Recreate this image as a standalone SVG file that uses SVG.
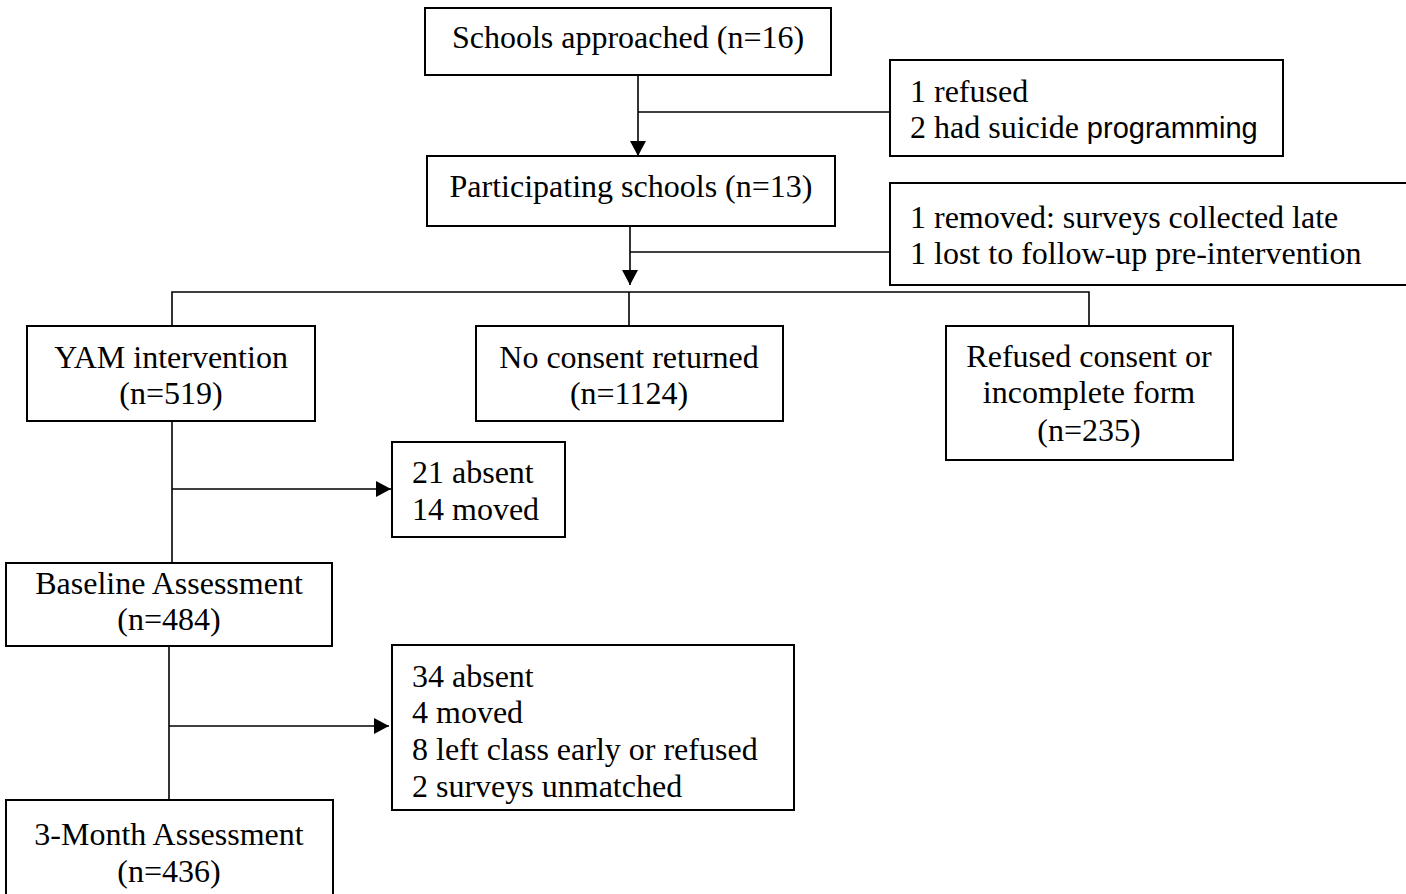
<svg xmlns="http://www.w3.org/2000/svg" width="1406" height="894" viewBox="0 0 1406 894">
<style>
.box{fill:#fff;stroke:#000;stroke-width:2}
.ln{fill:none;stroke:#000;stroke-width:1.6}
text{font-family:"Liberation Serif","Times New Roman",serif;font-size:32px;fill:#000}
.c{text-anchor:middle}
.sans{font-family:"Liberation Sans",Arial,sans-serif;font-size:29px}
</style>
<defs>
<marker id="ah" markerWidth="15" markerHeight="16" viewBox="0 0 15 16" refX="15" refY="8" orient="auto" markerUnits="userSpaceOnUse">
<path d="M0,0 L15,8 L0,16 Z" fill="#000"/>
</marker>
</defs>
<rect width="1406" height="894" fill="#fff"/>
<g id="connectors">
<line class="ln" x1="638" y1="75" x2="638" y2="156" marker-end="url(#ah)"/>
<line class="ln" x1="638" y1="112" x2="890" y2="112"/>
<line class="ln" x1="630" y1="226" x2="630" y2="285" marker-end="url(#ah)"/>
<line class="ln" x1="630" y1="252" x2="890" y2="252"/>
<polyline class="ln" points="172,326 172,292 1089,292 1089,326"/>
<line class="ln" x1="629" y1="292" x2="629" y2="326"/>
<line class="ln" x1="172" y1="421" x2="172" y2="563"/>
<line class="ln" x1="172" y1="489" x2="391" y2="489" marker-end="url(#ah)"/>
<line class="ln" x1="169" y1="646" x2="169" y2="800"/>
<line class="ln" x1="169" y1="726" x2="389" y2="726" marker-end="url(#ah)"/>
</g>
<g id="n-approached">
<rect class="box" x="425" y="8" width="406" height="67"/>
<text class="c" x="628" y="48">Schools approached (n=16)</text>
</g>
<g id="n-excl1">
<rect class="box" x="890" y="60" width="393" height="96"/>
<text x="910" y="102">1 refused</text>
<text x="910" y="138">2 had suicide <tspan class="sans">programming</tspan></text>
</g>
<g id="n-participating">
<rect class="box" x="427" y="156" width="408" height="70"/>
<text class="c" x="631" y="197">Participating schools (n=13)</text>
</g>
<g id="n-excl2">
<rect class="box" x="890" y="183" width="520" height="102"/>
<text x="910" y="228">1 removed: surveys collected late</text>
<text x="910" y="264">1 lost to follow-up pre-intervention</text>
</g>
<g id="n-yam">
<rect class="box" x="27" y="326" width="288" height="95"/>
<text class="c" x="171" y="368">YAM intervention</text>
<text class="c" x="171" y="404">(n=519)</text>
</g>
<g id="n-noconsent">
<rect class="box" x="476" y="326" width="307" height="95"/>
<text class="c" x="629" y="368">No consent returned</text>
<text class="c" x="629" y="404">(n=1124)</text>
</g>
<g id="n-refused">
<rect class="box" x="946" y="326" width="287" height="134"/>
<text class="c" x="1089" y="367">Refused consent or</text>
<text class="c" x="1089" y="403">incomplete form</text>
<text class="c" x="1089" y="441">(n=235)</text>
</g>
<g id="n-lost1">
<rect class="box" x="392" y="442" width="173" height="95"/>
<text x="412" y="483">21 absent</text>
<text x="412" y="520">14 moved</text>
</g>
<g id="n-baseline">
<rect class="box" x="6" y="563" width="326" height="83"/>
<text class="c" x="169" y="594">Baseline Assessment</text>
<text class="c" x="169" y="630">(n=484)</text>
</g>
<g id="n-lost2">
<rect class="box" x="392" y="645" width="402" height="165"/>
<text x="412" y="687">34 absent</text>
<text x="412" y="723">4 moved</text>
<text x="412" y="760">8 left class early or refused</text>
<text x="412" y="797">2 surveys unmatched</text>
</g>
<g id="n-3month">
<rect class="box" x="6" y="800" width="327" height="100"/>
<text class="c" x="169" y="845">3-Month Assessment</text>
<text class="c" x="169" y="882">(n=436)</text>
</g>
</svg>
